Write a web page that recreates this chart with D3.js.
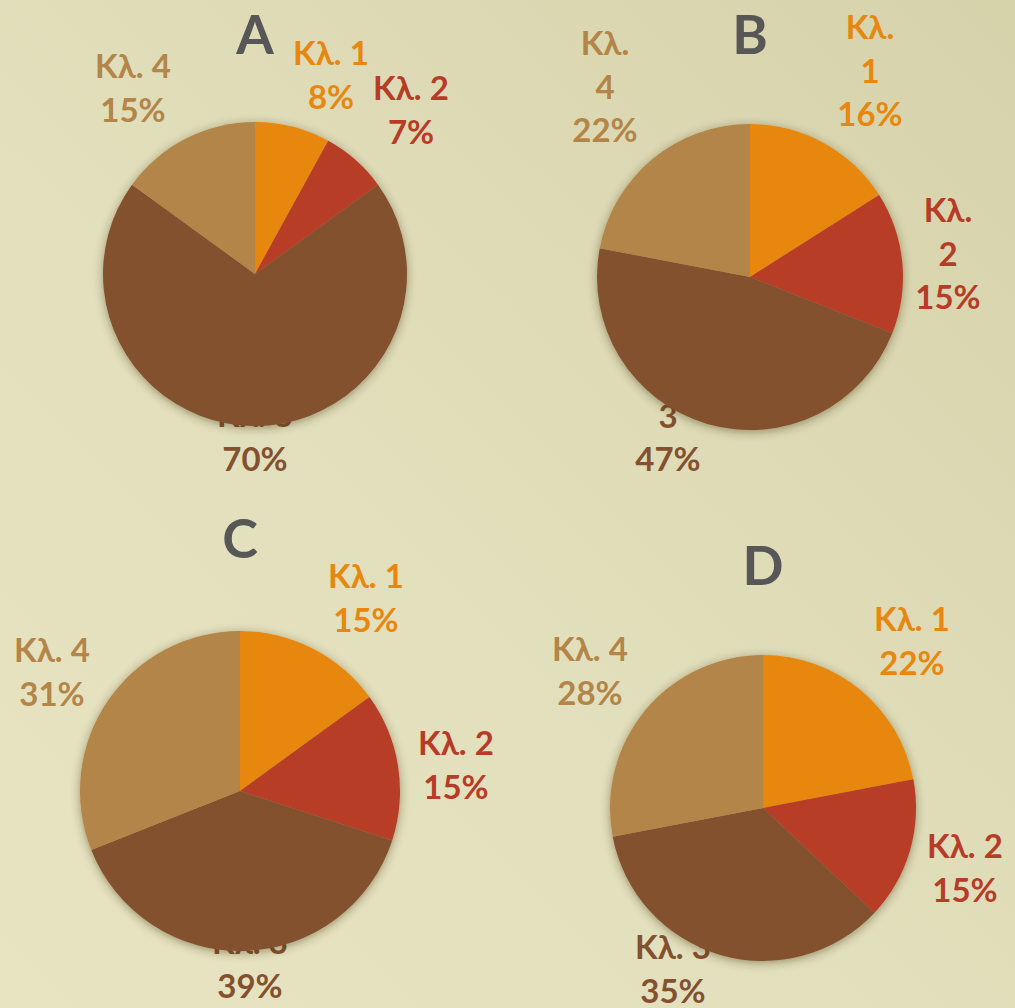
<!DOCTYPE html>
<html>
<head>
<meta charset="utf-8">
<script src="https://cdn.jsdelivr.net/npm/d3@7"></script>
<style>
  html, body { margin: 0; padding: 0; }
  body { width: 1015px; height: 1008px; overflow: hidden; }
  svg { display: block; }
  text { font-family: "Lato", "Open Sans", "DejaVu Sans", sans-serif; font-weight: 700; }
</style>
</head>
<body>
<svg id="chart" width="1015" height="1008"></svg>
<script>
// Class shares per group (percent)
const categories = ["Κλ. 1", "Κλ. 2", "Κλ. 3", "Κλ. 4"];
const groups = ["A", "B", "C", "D"];
const valuesA = [8, 7, 70, 15];
const valuesB = [16, 15, 47, 22];
const valuesC = [15, 15, 39, 31];
const valuesD = [22, 15, 35, 28];
const seriesValues = [valuesA, valuesB, valuesC, valuesD];

const colors = ["#e8870f", "#b73c27", "#83512f", "#b38548"];

// Layout of each pie panel: centre, radius, title position
const panels = [
  { cx: 255, cy: 274, r: 152, titleX: 255, titleY: 54 },
  { cx: 750, cy: 277, r: 153, titleX: 750, titleY: 54 },
  { cx: 240, cy: 791, r: 160, titleX: 240, titleY: 558 },
  { cx: 763, cy: 808, r: 153, titleX: 763, titleY: 585 }
];

// Label placement per panel and class: x centre, first baseline, wrapped or not
const labelPlacement = [
  [ {x: 331, y: 65, wrap: false}, {x: 411, y: 100, wrap: false}, {x: 255, y: 427, wrap: false}, {x: 133, y: 78, wrap: false} ],
  [ {x: 870, y: 39, wrap: true},  {x: 948, y: 222, wrap: true},  {x: 668, y: 384, wrap: true},  {x: 605, y: 55, wrap: true} ],
  [ {x: 366, y: 588, wrap: false}, {x: 456, y: 755, wrap: false}, {x: 250, y: 954, wrap: false}, {x: 52, y: 662, wrap: false} ],
  [ {x: 912, y: 631, wrap: false}, {x: 965, y: 858, wrap: false}, {x: 673, y: 959, wrap: false}, {x: 590, y: 661, wrap: false} ]
];
const lineGap = 43.5;

const svg = d3.select("#chart");
const W = 1015, H = 1008;

// Background gradient and pie shadow
const defs = svg.append("defs");
const bg = defs.append("linearGradient").attr("id", "bg")
  .attr("x1", "0%").attr("y1", "100%").attr("x2", "100%").attr("y2", "0%");
bg.append("stop").attr("offset", "0%").attr("stop-color", "#e8e4c2");
bg.append("stop").attr("offset", "45%").attr("stop-color", "#e2dfbc");
bg.append("stop").attr("offset", "100%").attr("stop-color", "#d6d2aa");

const shadow = defs.append("filter").attr("id", "pieShadow")
  .attr("x", "-20%").attr("y", "-20%").attr("width", "140%").attr("height", "140%");
shadow.append("feDropShadow").attr("dx", 0).attr("dy", 2)
  .attr("stdDeviation", 5).attr("flood-color", "#3a2a10").attr("flood-opacity", 0.45);

svg.append("rect").attr("width", W).attr("height", H).attr("fill", "url(#bg)");

const pie = d3.pie().sort(null).value(d => d);

seriesValues.forEach((vals, gi) => {
  const p = panels[gi];
  const g = svg.append("g");

  // group title
  g.append("text")
    .attr("x", p.titleX).attr("y", p.titleY)
    .attr("text-anchor", "middle")
    .attr("font-size", 54)
    .attr("fill", "#575757")
    .text(groups[gi]);

  // data labels (drawn under the pie, as the pie overlaps the lowest label)
  const labels = g.append("g");
  vals.forEach((v, ci) => {
    const lp = labelPlacement[gi][ci];
    const lines = lp.wrap
      ? [categories[ci].split(" ")[0], categories[ci].split(" ")[1], v + "%"]
      : [categories[ci], v + "%"];
    const t = labels.append("text")
      .attr("text-anchor", "middle")
      .attr("font-size", 33)
      .attr("fill", colors[ci]);
    lines.forEach((ln, li) => {
      t.append("tspan").attr("x", lp.x).attr("y", lp.y + li * lineGap).text(ln);
    });
  });

  const arc = d3.arc().innerRadius(0).outerRadius(p.r);
  const pieG = g.append("g")
    .attr("transform", `translate(${p.cx},${p.cy})`)
    .attr("filter", "url(#pieShadow)");
  pieG.selectAll("path")
    .data(pie(vals))
    .join("path")
    .attr("d", arc)
    .attr("fill", (d, i) => colors[i]);
});
</script>
</body>
</html>
